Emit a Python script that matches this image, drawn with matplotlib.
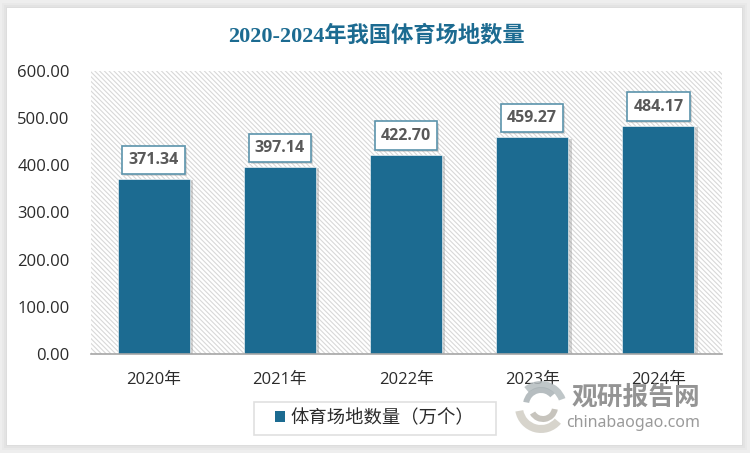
import matplotlib
matplotlib.use("Agg")
import matplotlib.pyplot as plt
import matplotlib.patheffects as pe
from matplotlib.patches import Rectangle, Wedge

years = ["2020年", "2021年", "2022年", "2023年", "2024年"]
values = [371.34, 397.14, 422.70, 459.27, 484.17]
yticks = [0, 100, 200, 300, 400, 500, 600]
series_name = "体育场地数量（万个）"
title = "2020-2024年我国体育场地数量"

BLUE = "#1c6b91"
SANS = ["Open Sans", "Noto Sans CJK SC", "DejaVu Sans"]
W, H = 750, 453

plt.rcParams["font.family"] = SANS
plt.rcParams["hatch.linewidth"] = 0.8
plt.rcParams["hatch.color"] = "#d8d8d8"

fig = plt.figure(figsize=(W / 100, H / 100), dpi=100, facecolor="#eeeeee")

# overlay in pixel coordinates for the card, legend box and watermark
bg = fig.add_axes([0, 0, 1, 1], zorder=0)
bg.set_xlim(0, W)
bg.set_ylim(H, 0)
bg.axis("off")
for grow, col in [(5, "#e9e9e9"), (3, "#e3e3e3"), (1, "#dddddd")]:
    bg.add_patch(Rectangle((7 - grow, 8 - grow), 735 + 2 * grow, 437 + 2 * grow, fc=col, ec="none"))
bg.add_patch(Rectangle((7, 8), 735, 437, fc="white", ec="none"))
bg.add_patch(Rectangle((253.5, 402), 242, 33, fc="white", ec="#e0e0e0", lw=1.2))

ax = fig.add_axes([90.5 / W, 1 - 354 / H, 631 / W, 283 / H], zorder=1)
ax.set_facecolor("white")
ax.patch.set_hatch("\\" * 7)
ax.patch.set_edgecolor("#d8d8d8")
ax.patch.set_linewidth(0)

bars = ax.bar(
    years, values, width=0.57, color=BLUE, edgecolor="white", linewidth=0.4,
    label=series_name, zorder=3,
    path_effects=[pe.SimplePatchShadow(offset=(2.5, -1), shadow_rgbFace="#777777", alpha=0.3), pe.Normal()],
)
ax.set_xlim(-0.5, 4.5)
ax.set_ylim(0, 600)
ax.set_yticks(yticks)
ax.set_yticklabels([f"{v:.2f}" for v in yticks])
ax.tick_params(axis="both", length=0, labelsize=12, labelcolor="#2b2b2b")
ax.tick_params(axis="x", pad=13)
ax.tick_params(axis="y", pad=15)
for side in ["top", "left", "right"]:
    ax.spines[side].set_visible(False)
ax.spines["bottom"].set_color("#a6a6a6")
ax.spines["bottom"].set_linewidth(1.2)
ax.spines["bottom"].set_zorder(4)

for rect, val in zip(bars, values):
    ax.annotate(
        f"{val:.2f}", (rect.get_x() + rect.get_width() / 2, val),
        xytext=(0, 8), textcoords="offset points", ha="center", va="bottom",
        fontsize=11.5, fontweight="bold", color="#595959", zorder=5,
        bbox=dict(boxstyle="square,pad=0.38", fc="white", ec="#5b93ab", lw=1.2,
                  path_effects=[pe.SimplePatchShadow(offset=(1.5, -1.5), shadow_rgbFace="#777777", alpha=0.25), pe.Normal()]),
    )

fig.text(376 / W, 1 - 35.5 / H, title, ha="center", va="center", fontsize=16, fontweight="bold",
         color=BLUE, family=["Liberation Serif", "Noto Sans CJK SC"])

handles, labels = ax.get_legend_handles_labels()
leg = fig.legend(
    handles, labels, loc="center", bbox_to_anchor=(375 / W, 1 - 418 / H),
    frameon=False, fontsize=13.2, handlelength=0.55, handleheight=0.55, handletextpad=0.3,
    borderpad=0, borderaxespad=0, labelcolor="#2b2b2b",
)
for h in leg.legend_handles:
    h.set_path_effects([])
    h.set_edgecolor("none")

# watermark
wm = fig.add_axes([0, 0, 1, 1], zorder=5)
wm.set_xlim(0, W)
wm.set_ylim(0, H)
wm.axis("off")
wm.add_patch(Wedge((541, H - 407), 26, 20, 130, width=7, fc="#b4bcbf", ec="none", alpha=0.85))
wm.add_patch(Wedge((541, H - 405), 18, 40, 170, width=6, fc="#a9b2b5", ec="none", alpha=0.85))
wm.add_patch(Wedge((541, H - 407), 26, 190, 320, width=8, fc="#d0cdc4", ec="none", alpha=0.85))
wm.add_patch(Wedge((543, H - 407), 15, 210, 350, width=6, fc="#bdbab2", ec="none", alpha=0.85))
wm.text(636, H - 397, "观研报告网", ha="center", va="center", fontsize=18.5, fontweight="bold",
        color="#8e8e8e", alpha=0.95, family="Noto Sans CJK SC")
wm.text(633, H - 423, "chinabaogao.com", ha="center", va="center", fontsize=11.5,
        color="#9a9a9a", family="Noto Sans")

fig.savefig("out.png", dpi=100, facecolor=fig.get_facecolor())
